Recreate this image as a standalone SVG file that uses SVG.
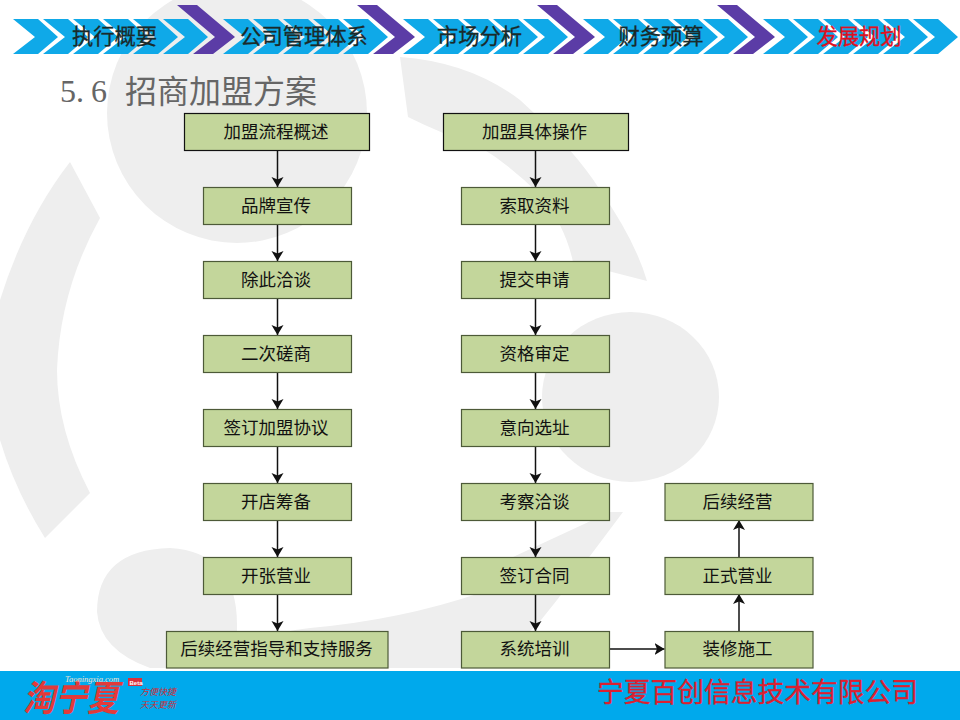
<svg xmlns="http://www.w3.org/2000/svg" xmlns:xlink="http://www.w3.org/1999/xlink" width="960" height="720" viewBox="0 0 960 720">
<style>
text{font-family:"Noto Sans CJK SC","Liberation Sans",sans-serif}
.wm{fill:#eeeeee}
.nb{fill:#0FA9E8}
.np{fill:#5B3CA6}
.nt{font-size:21.300px;fill:#1a2a2a;text-anchor:middle;stroke:#1a2a2a;stroke-width:.3}
.box{fill:#C3D69B;stroke:#4d5a38;stroke-width:1.2}
.hd{stroke:#111}
.lb{font-size:17.500px;fill:#111;text-anchor:middle}
.c{stroke:#111;stroke-width:1.5;fill:none;marker-end:url(#a)}
.sl{font-size:9px;font-style:italic;fill:#C8303C}
</style>
<defs>
<marker id="a" markerUnits="userSpaceOnUse" markerWidth="12" markerHeight="13" refX="10" refY="6.500" orient="auto"><path d="M0,0.500 L10,6.500 L0,12.500 L2.500,6.500 Z" fill="#111"/></marker>
<polygon id="cb" points="0,0 25,0 45,18 25,35 0,35 22,18"/>
</defs>
<rect width="960" height="720" fill="#fff"/>
<g id="watermark">
<circle class="wm" cx="237" cy="113" r="130"/>
<path class="wm" d="M400,57 Q470,62 520,100 Q575,150 600,190 Q635,240 647,281 L573,262 Q565,225 540,195 Q510,165 480,147 Q440,133 408,117 Z"/>
<ellipse class="wm" cx="630.500" cy="397" rx="88.500" ry="85"/>
<path class="wm" d="M70,162 L100,218 Q60,290 57,370 Q57,430 90,493 L45,538 Q15,490 0,440 L0,300 Q25,220 70,162 Z"/>
<path class="wm" d="M97,612 Q97,550 170,548 Q237,552 237,625 L237,650 Q270,632 310,628 Q400,620 480,593 Q495,575 513,557 L610,512 L623,512 L557,600 L537,625 Q510,650 460,668 L150,668 Q100,650 97,612 Z"/>
</g>
<g id="nav">
<g class="nb">
<use xlink:href="#cb" x="13" y="19"/><use xlink:href="#cb" x="43" y="19"/><use xlink:href="#cb" x="73" y="19"/><use xlink:href="#cb" x="103" y="19"/><use xlink:href="#cb" x="133" y="19"/><use xlink:href="#cb" x="163" y="19"/>
<use xlink:href="#cb" x="223" y="19"/><use xlink:href="#cb" x="253" y="19"/><use xlink:href="#cb" x="283" y="19"/><use xlink:href="#cb" x="313" y="19"/><use xlink:href="#cb" x="343" y="19"/>
<use xlink:href="#cb" x="403" y="19"/><use xlink:href="#cb" x="433" y="19"/><use xlink:href="#cb" x="463" y="19"/><use xlink:href="#cb" x="493" y="19"/><use xlink:href="#cb" x="523" y="19"/>
<use xlink:href="#cb" x="583" y="19"/><use xlink:href="#cb" x="613" y="19"/><use xlink:href="#cb" x="643" y="19"/><use xlink:href="#cb" x="673" y="19"/><use xlink:href="#cb" x="703" y="19"/>
<use xlink:href="#cb" x="763" y="19"/><use xlink:href="#cb" x="793" y="19"/><use xlink:href="#cb" x="823" y="19"/><use xlink:href="#cb" x="853" y="19"/><use xlink:href="#cb" x="883" y="19"/><use xlink:href="#cb" x="913" y="19"/>
</g>
<g class="np">
<polygon points="177,5 197,5 235,37 213,54 193,54 215,37"/>
<polygon points="357,5 377,5 415,37 393,54 373,54 395,37"/>
<polygon points="537,5 557,5 595,37 573,54 553,54 575,37"/>
<polygon points="717,5 737,5 775,37 753,54 733,54 755,37"/>
</g>
<text class="nt" x="114.500" y="44">执行概要</text>
<text class="nt" x="304" y="44">公司管理体系</text>
<text class="nt" x="479.500" y="44">市场分析</text>
<text class="nt" x="661" y="44">财务预算</text>
<text class="nt" x="859" y="44" style="fill:#E01020;stroke:#E01020">发展规划</text>
</g>
<text id="title" x="59" y="103" font-size="32" fill="#666"><tspan x="60 76 91" y="102" style="font-family:'Liberation Serif',serif">5.6</tspan><tspan x="125" y="103">招商加盟方案</tspan></text>
<g id="connectors">
<path class="c" d="M277.500,151V187"/><path class="c" d="M277.500,224V261"/><path class="c" d="M277.500,298V335"/><path class="c" d="M277.500,372V409"/><path class="c" d="M277.500,446V483"/><path class="c" d="M277.500,520V557"/><path class="c" d="M277.500,594V631"/>
<path class="c" d="M535.500,151V187"/><path class="c" d="M535.500,224V261"/><path class="c" d="M535.500,298V335"/><path class="c" d="M535.500,372V409"/><path class="c" d="M535.500,446V483"/><path class="c" d="M535.500,520V557"/><path class="c" d="M535.500,594V631"/>
<path class="c" d="M609.500,649H664.500"/><path class="c" d="M739,631V594"/><path class="c" d="M739,557V520"/>
</g>
<g id="n1"><rect class="box hd" x="184.500" y="113.500" width="185" height="37"/><text class="lb" x="276" y="138">加盟流程概述</text></g>
<g id="n2"><rect class="box" x="203.500" y="187.500" width="148" height="37"/><text class="lb" x="276" y="212">品牌宣传</text></g>
<g id="n3"><rect class="box" x="203.500" y="261.500" width="148" height="37"/><text class="lb" x="276" y="286">除此洽谈</text></g>
<g id="n4"><rect class="box" x="203.500" y="335.500" width="148" height="37"/><text class="lb" x="276" y="360">二次磋商</text></g>
<g id="n5"><rect class="box" x="203.500" y="409.500" width="148" height="37"/><text class="lb" x="276" y="434">签订加盟协议</text></g>
<g id="n6"><rect class="box" x="203.500" y="483.500" width="148" height="37"/><text class="lb" x="276" y="508">开店筹备</text></g>
<g id="n7"><rect class="box" x="203.500" y="557.500" width="148" height="37"/><text class="lb" x="276" y="582">开张营业</text></g>
<g id="n8"><rect class="box" x="166.500" y="631.500" width="221.500" height="36.500"/><text class="lb" x="276.500" y="655">后续经营指导和支持服务</text></g>
<g id="m1"><rect class="box hd" x="443.500" y="113.500" width="185" height="37"/><text class="lb" x="534.500" y="138">加盟具体操作</text></g>
<g id="m2"><rect class="box" x="461.500" y="187.500" width="148" height="37"/><text class="lb" x="534.500" y="212">索取资料</text></g>
<g id="m3"><rect class="box" x="461.500" y="261.500" width="148" height="37"/><text class="lb" x="534.500" y="286">提交申请</text></g>
<g id="m4"><rect class="box" x="461.500" y="335.500" width="148" height="37"/><text class="lb" x="534.500" y="360">资格审定</text></g>
<g id="m5"><rect class="box" x="461.500" y="409.500" width="148" height="37"/><text class="lb" x="534.500" y="434">意向选址</text></g>
<g id="m6"><rect class="box" x="461.500" y="483.500" width="148" height="37"/><text class="lb" x="534.500" y="508">考察洽谈</text></g>
<g id="m7"><rect class="box" x="461.500" y="557.500" width="148" height="37"/><text class="lb" x="534.500" y="582">签订合同</text></g>
<g id="m8"><rect class="box" x="461.500" y="631.500" width="148" height="36.500"/><text class="lb" x="534.500" y="655">系统培训</text></g>
<g id="r1"><rect class="box" x="665" y="631.500" width="148" height="36.500"/><text class="lb" x="737.500" y="655">装修施工</text></g>
<g id="r2"><rect class="box" x="665" y="557.500" width="148" height="37"/><text class="lb" x="737.500" y="582">正式营业</text></g>
<g id="r3"><rect class="box" x="665" y="483.500" width="148" height="37"/><text class="lb" x="737.500" y="508">后续经营</text></g>
<g id="footer">
<rect y="671" width="960" height="49" fill="#00A9EC"/>
<text x="597" y="702" font-size="26.750" fill="#DC2030" stroke="#DC2030" stroke-width=".3">宁夏百创信息技术有限公司</text>
<text transform="translate(23,711) scale(1,1.120)" font-size="32" font-weight="700" font-style="italic" fill="#E23A3A">淘宁夏</text>
<text x="65" y="682" font-size="8.500px" font-style="italic" fill="#F4E4D0" style="font-family:'Liberation Serif',serif">Taoningxia.com</text>
<rect x="128" y="678" width="14" height="8" fill="#D8303C"/>
<text x="129.500" y="684.500" font-size="6px" font-weight="700" fill="#fff" style="font-family:'Liberation Sans',sans-serif">Beta</text>
<text class="sl" x="140" y="695">方便快捷</text>
<text class="sl" x="140" y="708">天天更新</text>
</g>
</svg>
